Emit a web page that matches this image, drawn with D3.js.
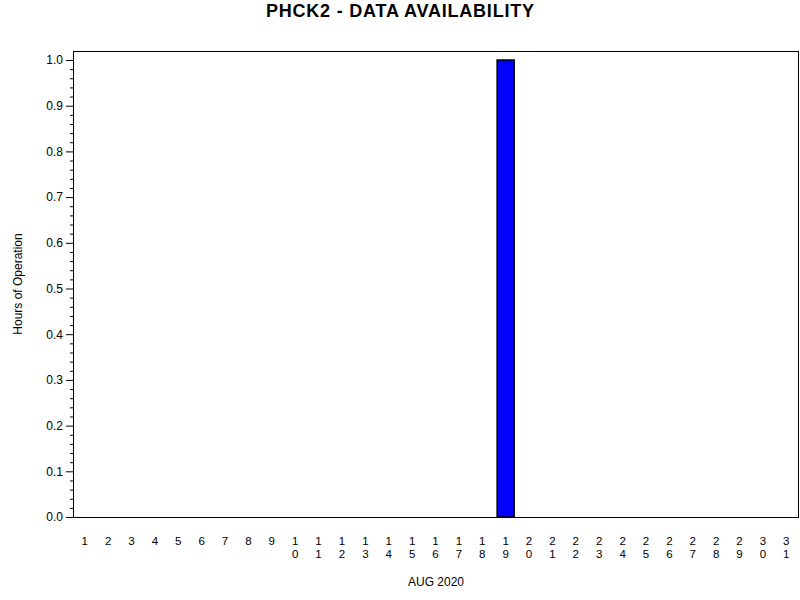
<!DOCTYPE html>
<html><head><meta charset="utf-8">
<script src="https://cdn.jsdelivr.net/npm/d3@7"></script>
<style>body{margin:0;background:#fff}svg{display:block}text{font-family:"Liberation Sans",Arial,sans-serif}</style>
</head><body>
<svg id="c" width="800" height="600"></svg>
<script>
const days = d3.range(1, 32).map(String);
const hours = [0,0,0,0,0,0,0,0,0,0,0,0,0,0,0,0,0,0,1,0,0,0,0,0,0,0,0,0,0,0,0];
const yTicks = [0,0.1,0.2,0.3,0.4,0.5,0.6,0.7,0.8,0.9,1.0];
const title = "PHCK2 - DATA AVAILABILITY";
const xTitle = "AUG 2020";
const yTitle = "Hours of Operation";

const svg = d3.select("#c");
const L = 73, R = 798, T = 51, B = 517;
const x = d3.scalePoint().domain(days).range([L, R]).padding(0.5);
const y = d3.scaleLinear().domain([0, 1]).range([B, 60]);
const bw = x.step() * 0.73;

svg.append("text").attr("x", 400).attr("y", 17).attr("text-anchor", "middle")
  .attr("font-size", 18).attr("font-weight", "bold")
  .attr("textLength", 268).attr("lengthAdjust", "spacing").text(title);

// frame
svg.append("rect").attr("x", L).attr("y", T).attr("width", R - L).attr("height", B - T)
  .attr("fill", "none").attr("stroke", "#000").attr("stroke-width", 1).attr("shape-rendering", "crispEdges");

// bars
svg.selectAll("rect.bar").data(days.map((d, i) => ({d, v: hours[i]})).filter(o => o.v > 0))
  .enter().append("rect").attr("class", "bar")
  .attr("x", o => x(o.d) - bw / 2).attr("y", o => y(o.v))
  .attr("width", bw).attr("height", o => y(0) - y(o.v))
  .attr("fill", "#0000ff").attr("stroke", "#000").attr("stroke-width", 1.5);

// y axis major
const yAxis = d3.axisLeft(y).tickValues(yTicks).tickFormat(d3.format(".1f")).tickSize(7).tickPadding(3);
const gy = svg.append("g").attr("transform", `translate(${L},0)`).call(yAxis);
gy.select(".domain").remove();
gy.selectAll("text").attr("font-size", 12).attr("font-family", "Liberation Sans, Arial, sans-serif");
// minor ticks
const minor = d3.range(0, 51).map(i => i / 50).filter((v, i) => i % 5 !== 0);
svg.append("g").attr("transform", `translate(${L},0)`)
  .call(d3.axisLeft(y).tickValues(minor).tickSize(3).tickFormat(""))
  .call(g => g.select(".domain").remove());

// x labels (stacked digits)
const gx = svg.append("g");
days.forEach(d => {
  d.split("").forEach((ch, j) => {
    gx.append("text").attr("x", x(d)).attr("y", 545 + j * 12.5)
      .attr("text-anchor", "middle").attr("font-size", 11.5).text(ch);
  });
});

svg.append("text").attr("x", 436).attr("y", 586).attr("text-anchor", "middle").attr("font-size", 12).text(xTitle);
svg.append("text").attr("transform", "translate(22,284) rotate(-90)").attr("text-anchor", "middle")
  .attr("font-size", 12).text(yTitle);
</script>
</body></html>
